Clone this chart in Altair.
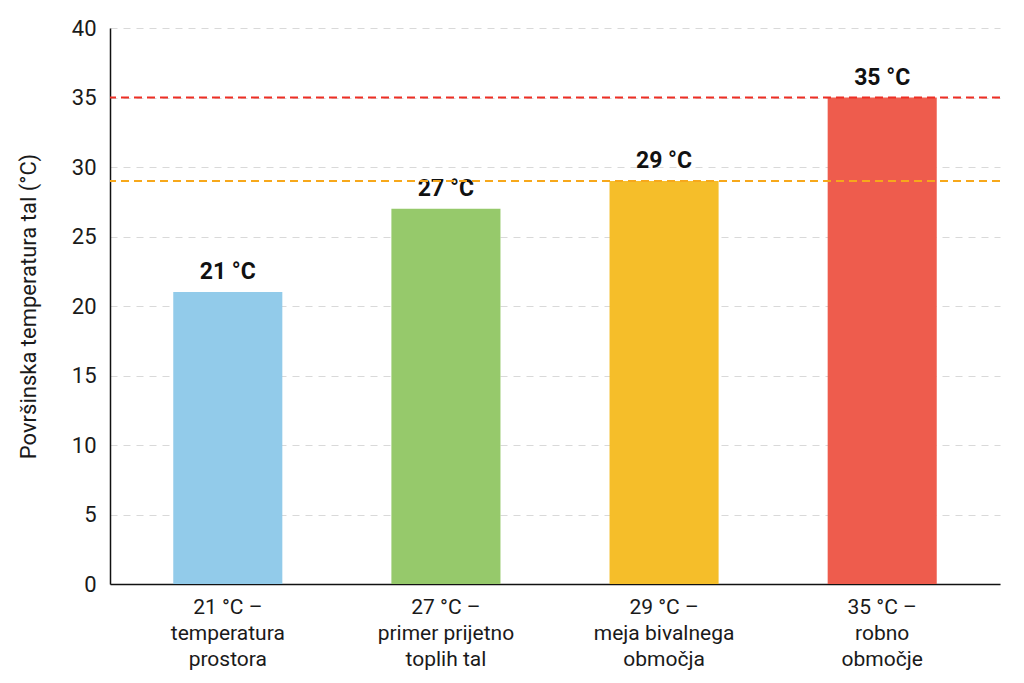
import pandas as pd
import altair as alt

categories = [
    "21 °C –|temperatura|prostora",
    "27 °C –|primer prijetno|toplih tal",
    "29 °C –|meja bivalnega|območja",
    "35 °C –|robno|območje",
]
values = [21, 27, 29, 35]
labels = ["21 °C", "27 °C", "29 °C", "35 °C"]
bar_colors = ["#92CBEA", "#96C96B", "#F5BE2A", "#EE5C4D"]

ref_values = [35, 29]
ref_colors = ["#EE2E24", "#F7A81B"]

df = pd.DataFrame({"cat": categories, "value": values, "label": labels})
ref_df = pd.DataFrame({"y": ref_values, "color": ref_colors})

FONT = "Roboto"

x = alt.X(
    "cat:N",
    sort=categories,
    title=None,
    scale=alt.Scale(paddingInner=0.5, paddingOuter=0.29),
    axis=alt.Axis(
        labelAngle=0,
        labelExpr="split(datum.label, '|')",
        labelFontSize=21,
        labelLineHeight=26,
        labelPadding=12,
        labelColor="#1a1a1a",
        ticks=False,
        grid=False,
        domainColor="#111111",
        domainWidth=1.5,
        labelFont=FONT,
    ),
)
y = alt.Y(
    "value:Q",
    title="Površinska temperatura tal (°C)",
    scale=alt.Scale(domain=[0, 40]),
    axis=alt.Axis(
        values=[0, 5, 10, 15, 20, 25, 30, 35, 40],
        ticks=False,
        labelFontSize=22,
        labelPadding=14,
        labelColor="#1a1a1a",
        labelFont=FONT,
        titleFont=FONT,
        titleFontSize=22,
        titleFontWeight="normal",
        titleColor="#1a1a1a",
        titlePadding=31,
        domainColor="#111111",
        domainWidth=1.5,
        gridColor="#d9d9d9",
        gridDash=[7, 6],
        gridWidth=1,
    ),
)

bars = alt.Chart(df).mark_bar().encode(
    x=x,
    y=y,
    color=alt.Color("cat:N", sort=categories, scale=alt.Scale(domain=categories, range=bar_colors), legend=None),
)

text = alt.Chart(df).mark_text(
    baseline="bottom", dy=-8, fontSize=23, fontWeight="bold", font=FONT, color="#111111"
).encode(
    x=alt.X("cat:N", sort=categories),
    y="value:Q",
    text="label:N",
)

rules = alt.Chart(ref_df).mark_rule(strokeDash=[8, 5], strokeWidth=2).encode(
    y="y:Q",
    color=alt.Color("color:N", scale=alt.Scale(domain=ref_colors, range=ref_colors), legend=None),
)

chart = alt.layer(bars, text, rules).resolve_scale(color="independent").properties(
    width=890,
    height=556,
    background="white",
    autosize=alt.AutoSizeParams(type="none"),
    padding={"left": 102, "top": 20, "right": 16, "bottom": 91},
).configure_view(stroke="transparent", strokeWidth=0)

chart.save("out.html", embed_options={"renderer": "svg", "actions": False})
